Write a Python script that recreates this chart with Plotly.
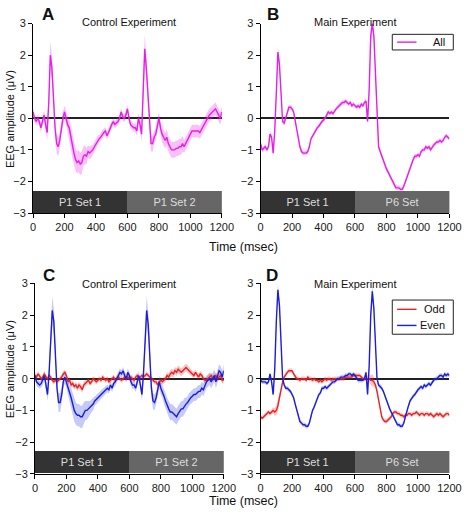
import plotly.graph_objects as go

W, H = 474, 519

# time grid (ms)
time_ms = list(range(0, 1201, 10))

# Panel A: Control experiment, all trials
ctrl_all = [
    0.2, 0.0, -0.1, 0.0, -0.1, -0.3, -0.1, 0.1, -0.2, -0.45,
    0.5, 2.0, 1.6, 0.6, -0.3, -0.8, -0.9, -0.7, -0.3, 0.0,
    0.2, 0.0, -0.2, -0.3, -0.6, -0.9, -1.1, -1.3, -1.4, -1.35,
    -1.45, -1.4, -1.2, -1.15, -1.2, -1.05, -1.1, -1.05, -1.0, -0.9,
    -0.8, -0.7, -0.65, -0.6, -0.5, -0.45, -0.4, -0.55, -0.45, -0.3,
    -0.2, -0.1, -0.2, -0.15, -0.1, 0.0, 0.2, 0.05, 0.0, 0.1,
    0.3, 0.0, -0.2, -0.25, -0.3, -0.3, -0.4, 0.0, -0.2, -0.5,
    0.8, 2.2, 1.6, 0.7, -0.3, -0.8, -0.8, -0.6, -0.5, -0.2,
    0.0, -0.3, -0.5, -0.6, -0.7, -0.6, -0.8, -0.9, -1.0, -1.0,
    -1.0, -0.95, -0.95, -0.9, -0.9, -0.8, -0.9, -0.8, -0.7, -0.55,
    -0.45, -0.4, -0.4, -0.4, -0.4, -0.4, -0.45, -0.35, -0.3, -0.2,
    -0.1, 0.0, 0.1, 0.15, 0.2, 0.25, 0.3, 0.2, 0.1, 0.0,
    0.2,
]
ctrl_all_sem = [
    0.12, 0.12, 0.12, 0.12, 0.12, 0.15, 0.15, 0.15, 0.2, 0.25,
    0.3, 0.45, 0.4, 0.3, 0.25, 0.3, 0.3, 0.25, 0.2, 0.2,
    0.2, 0.2, 0.25, 0.3, 0.35, 0.35, 0.35, 0.35, 0.35, 0.35,
    0.35, 0.35, 0.3, 0.3, 0.25, 0.2, 0.2, 0.2, 0.15, 0.15,
    0.15, 0.15, 0.12, 0.12, 0.12, 0.12, 0.12, 0.12, 0.12, 0.12,
    0.12, 0.12, 0.12, 0.12, 0.12, 0.12, 0.12, 0.12, 0.12, 0.12,
    0.12, 0.12, 0.12, 0.12, 0.12, 0.15, 0.15, 0.15, 0.2, 0.25,
    0.3, 0.45, 0.4, 0.3, 0.25, 0.25, 0.25, 0.2, 0.2, 0.2,
    0.2, 0.2, 0.25, 0.25, 0.25, 0.25, 0.25, 0.25, 0.25, 0.25,
    0.25, 0.25, 0.25, 0.25, 0.25, 0.25, 0.2, 0.2, 0.2, 0.2,
    0.2, 0.2, 0.2, 0.2, 0.2, 0.2, 0.2, 0.2, 0.2, 0.2,
    0.2, 0.2, 0.2, 0.2, 0.2, 0.2, 0.2, 0.2, 0.2, 0.2,
    0.2,
]

# Panel B: Main experiment, all trials
main_all = [
    -0.8, -1.0, -0.95, -0.9, -1.0, -0.9, -0.5, -0.6, -1.1, -0.4,
    0.8, 2.1, 1.7, 0.6, -0.1, -0.15, 0.0, 0.2, 0.35, 0.35,
    0.3, 0.2, -0.1, -0.4, -0.7, -0.9, -1.05, -1.1, -1.1, -1.1,
    -1.05, -0.9, -0.65, -0.55, -0.45, -0.4, -0.3, -0.25, -0.15, -0.1,
    -0.05, 0.0, 0.1, 0.2, 0.15, 0.2, 0.15, 0.25, 0.3, 0.35,
    0.4, 0.45, 0.5, 0.5, 0.55, 0.5, 0.45, 0.5, 0.4, 0.45,
    0.4, 0.35, 0.4, 0.35, 0.45, 0.4, 0.5, 0.55, -0.1, 0.9,
    2.6, 3.0, 2.6, 1.4, 0.1, -0.9, -1.05, -1.2, -1.35, -1.45,
    -1.6, -1.7, -1.8, -1.9, -2.0, -2.1, -2.2, -2.2, -2.2, -2.25,
    -2.25, -2.15, -2.0, -1.85, -1.7, -1.55, -1.4, -1.3, -1.2, -1.2,
    -1.15, -1.2, -1.05, -1.0, -1.0, -0.9, -0.95, -0.9, -1.0, -0.9,
    -0.85, -0.8, -0.75, -0.75, -0.7, -0.75, -0.7, -0.6, -0.55, -0.6,
    -0.65,
]
main_all_sem = [
    0.08, 0.08, 0.08, 0.08, 0.08, 0.08, 0.08, 0.08, 0.1, 0.12,
    0.15, 0.2, 0.15, 0.1, 0.08, 0.08, 0.08, 0.08, 0.08, 0.08,
    0.07, 0.07, 0.07, 0.07, 0.07, 0.07, 0.07, 0.07, 0.07, 0.07,
    0.07, 0.07, 0.07, 0.07, 0.07, 0.07, 0.07, 0.07, 0.07, 0.07,
    0.07, 0.07, 0.07, 0.07, 0.07, 0.07, 0.07, 0.07, 0.07, 0.07,
    0.07, 0.07, 0.07, 0.07, 0.07, 0.07, 0.07, 0.07, 0.07, 0.07,
    0.07, 0.07, 0.07, 0.07, 0.07, 0.07, 0.07, 0.08, 0.1, 0.15,
    0.2, 0.2, 0.2, 0.15, 0.1, 0.08, 0.08, 0.08, 0.08, 0.08,
    0.08, 0.08, 0.08, 0.08, 0.08, 0.08, 0.08, 0.08, 0.08, 0.08,
    0.08, 0.08, 0.08, 0.08, 0.08, 0.07, 0.07, 0.07, 0.07, 0.07,
    0.07, 0.07, 0.07, 0.07, 0.07, 0.07, 0.07, 0.07, 0.07, 0.07,
    0.07, 0.07, 0.07, 0.07, 0.07, 0.07, 0.07, 0.07, 0.07, 0.07,
    0.07,
]

# Panel C: Control experiment, odd / even
ctrl_even = [
    0.1, -0.1, -0.15, -0.2, -0.15, -0.05, 0.1, -0.2, -0.5, 0.2,
    1.3, 2.15, 1.8, 0.8, -0.3, -0.75, -0.75, -0.5, -0.1, 0.05,
    -0.1, -0.3, -0.45, -0.6, -0.8, -1.0, -1.1, -1.15, -1.15, -1.2,
    -1.2, -1.1, -1.0, -1.0, -0.95, -0.9, -0.85, -0.8, -0.7, -0.65,
    -0.6, -0.55, -0.5, -0.45, -0.4, -0.35, -0.3, -0.35, -0.2, -0.3,
    -0.15, -0.1, 0.0, 0.1, 0.2, 0.15, 0.25, 0.1, 0.0, 0.2,
    0.1, -0.1, -0.2, -0.2, -0.3, -0.1, 0.1, -0.2, -0.5, 0.2,
    1.2, 2.15, 1.7, 0.8, -0.3, -0.7, -0.75, -0.6, -0.3, -0.1,
    -0.3, -0.4, -0.55, -0.7, -0.85, -0.95, -1.05, -1.05, -1.1, -1.15,
    -1.2, -1.1, -1.0, -0.95, -0.95, -0.85, -0.8, -0.75, -0.65, -0.6,
    -0.55, -0.5, -0.5, -0.45, -0.4, -0.4, -0.3, -0.35, -0.2, -0.1,
    -0.05, 0.0, -0.1, 0.0, 0.1, -0.1, 0.1, 0.25, 0.2, 0.05,
    0.25,
]
ctrl_even_sem = ctrl_all_sem
ctrl_odd = [
    0.1, 0.05, 0.15, 0.05, 0.0, 0.05, 0.15, 0.05, 0.0, 0.1,
    0.05, -0.05, -0.1, -0.05, -0.1, -0.05, 0.0, 0.05, 0.15, 0.2,
    0.1, -0.1, -0.05, -0.2, -0.15, -0.25, -0.2, -0.3, -0.2, -0.25,
    -0.35, -0.2, -0.15, -0.1, -0.05, -0.15, -0.1, 0.0, -0.05, -0.1,
    -0.05, 0.0, -0.05, 0.05, 0.0, -0.05, 0.0, -0.1, -0.05, 0.0,
    0.05, -0.05, 0.0, 0.05, 0.0, -0.05, 0.0, 0.05, 0.0, 0.05,
    0.0, 0.05, 0.0, -0.05, 0.05, 0.1, 0.0, 0.05, 0.1, 0.05,
    0.1, 0.15, 0.1, 0.05, 0.0, -0.05, -0.1, -0.1, -0.2, -0.1,
    -0.05, -0.1, -0.05, 0.0, 0.1, 0.05, 0.15, 0.2, 0.15, 0.25,
    0.2, 0.3, 0.25, 0.2, 0.25, 0.3, 0.35, 0.3, 0.25, 0.2,
    0.15, 0.1, 0.2, 0.1, 0.05, 0.15, 0.1, 0.0, -0.05, -0.05,
    0.0, 0.05, 0.1, 0.0, 0.05, 0.1, 0.0, 0.05, 0.1, -0.05,
    -0.05,
]
ctrl_odd_sem = [
    0.08, 0.08, 0.08, 0.08, 0.08, 0.08, 0.08, 0.08, 0.08, 0.08,
    0.08, 0.08, 0.08, 0.08, 0.08, 0.08, 0.08, 0.08, 0.08, 0.08,
    0.1, 0.1, 0.1, 0.1, 0.1, 0.1, 0.1, 0.1, 0.1, 0.1,
    0.1, 0.1, 0.1, 0.1, 0.08, 0.08, 0.08, 0.08, 0.08, 0.08,
    0.08, 0.08, 0.08, 0.08, 0.08, 0.08, 0.08, 0.08, 0.08, 0.08,
    0.08, 0.08, 0.08, 0.08, 0.08, 0.08, 0.08, 0.08, 0.08, 0.08,
    0.08, 0.08, 0.08, 0.08, 0.08, 0.08, 0.08, 0.08, 0.08, 0.08,
    0.08, 0.08, 0.08, 0.08, 0.08, 0.08, 0.08, 0.08, 0.1, 0.1,
    0.1, 0.1, 0.1, 0.1, 0.1, 0.12, 0.12, 0.12, 0.12, 0.12,
    0.12, 0.12, 0.12, 0.12, 0.12, 0.12, 0.12, 0.12, 0.1, 0.1,
    0.1, 0.1, 0.1, 0.1, 0.1, 0.1, 0.1, 0.1, 0.1, 0.1,
    0.1, 0.1, 0.1, 0.1, 0.1, 0.1, 0.1, 0.1, 0.1, 0.1,
    0.1,
]

# Panel D: Main experiment, odd / even
main_even = [
    -0.05, -0.1, -0.1, -0.1, -0.15, -0.1, 0.15, -0.1, -0.5, 0.3,
    1.8, 2.8, 2.3, 1.0, 0.0, -0.2, -0.3, -0.3, -0.35, -0.4,
    -0.5, -0.6, -0.8, -1.0, -1.2, -1.35, -1.4, -1.45, -1.45, -1.5,
    -1.5, -1.4, -1.2, -1.0, -0.9, -0.75, -0.6, -0.5, -0.45, -0.3,
    -0.3, -0.25, -0.3, -0.25, -0.2, -0.15, -0.1, -0.1, -0.05, 0.0,
    0.0, 0.05, 0.05, 0.05, 0.1, 0.1, 0.15, 0.15, 0.1, 0.15,
    0.1, 0.0, -0.05, -0.05, -0.05, -0.05, 0.0, 0.2, -0.5, 0.4,
    2.0, 2.75, 2.2, 1.0, 0.0, -0.2, -0.25, -0.3, -0.4, -0.55,
    -0.7, -0.8, -0.95, -1.05, -1.15, -1.3, -1.4, -1.45, -1.45, -1.5,
    -1.5, -1.4, -1.2, -1.0, -0.85, -0.7, -0.6, -0.55, -0.5, -0.4,
    -0.35, -0.3, -0.25, -0.3, -0.2, -0.25, -0.2, -0.15, -0.2, -0.1,
    -0.05, 0.0, 0.0, 0.05, 0.1, 0.1, 0.05, 0.15, 0.1, 0.15,
    0.1,
]
main_odd = [
    -1.2, -1.25, -1.2, -1.15, -1.1, -1.05, -1.1, -1.05, -1.0, -1.05,
    -1.0, -0.85, -0.6, -0.3, -0.1, 0.05, 0.15, 0.2, 0.25, 0.25,
    0.25, 0.15, 0.05, 0.0, 0.0, -0.05, 0.0, 0.0, 0.0, -0.05,
    0.05, 0.0, 0.0, -0.05, 0.0, -0.05, -0.05, -0.1, -0.05, -0.1,
    -0.05, 0.0, -0.05, 0.0, 0.0, -0.05, 0.0, 0.0, 0.0, 0.0,
    0.0, 0.0, 0.0, 0.0, 0.05, 0.05, 0.05, 0.05, 0.05, 0.1,
    0.1, 0.1, 0.1, 0.1, 0.05, 0.0, 0.0, 0.0, 0.0, 0.0,
    -0.05, -0.05, -0.1, -0.2, -0.4, -0.7, -1.0, -1.2, -1.3, -1.35,
    -1.35, -1.3, -1.25, -1.2, -1.1, -1.05, -1.05, -1.1, -1.1, -1.15,
    -1.15, -1.2, -1.15, -1.15, -1.1, -1.1, -1.15, -1.1, -1.1, -1.05,
    -1.1, -1.15, -1.1, -1.1, -1.15, -1.1, -1.1, -1.15, -1.1, -1.15,
    -1.2, -1.15, -1.1, -1.15, -1.1, -1.15, -1.2, -1.15, -1.1, -1.1,
    -1.15,
]
main_oe_sem = [
    0.07, 0.07, 0.07, 0.07, 0.07, 0.07, 0.07, 0.07, 0.1, 0.12,
    0.15, 0.2, 0.15, 0.1, 0.08, 0.07, 0.07, 0.07, 0.07, 0.07,
    0.07, 0.07, 0.07, 0.07, 0.07, 0.07, 0.07, 0.07, 0.07, 0.07,
    0.07, 0.07, 0.07, 0.07, 0.07, 0.07, 0.07, 0.07, 0.07, 0.07,
    0.07, 0.07, 0.07, 0.07, 0.07, 0.07, 0.07, 0.07, 0.07, 0.07,
    0.07, 0.07, 0.07, 0.07, 0.07, 0.07, 0.07, 0.07, 0.07, 0.07,
    0.07, 0.07, 0.07, 0.07, 0.07, 0.07, 0.07, 0.07, 0.1, 0.12,
    0.15, 0.2, 0.15, 0.1, 0.08, 0.07, 0.07, 0.07, 0.07, 0.07,
    0.07, 0.07, 0.07, 0.07, 0.07, 0.07, 0.07, 0.07, 0.07, 0.07,
    0.07, 0.07, 0.07, 0.07, 0.07, 0.07, 0.07, 0.07, 0.07, 0.07,
    0.07, 0.07, 0.07, 0.07, 0.07, 0.07, 0.07, 0.07, 0.07, 0.07,
    0.07, 0.07, 0.07, 0.07, 0.07, 0.07, 0.07, 0.07, 0.07, 0.07,
    0.07,
]

# stimulus period bars
seg_centers = [300, 900]
seg_widths = [600, 600]
seg_height = [0.7, 0.7]
seg_base = [-3, -3]
seg_labels_ctrl = ["P1 Set 1", "P1 Set 2"]
seg_labels_main = ["P1 Set 1", "P6 Set"]
seg_colors = ["#333333", "#666666"]

y_ticks = [-3, -2, -1, 0, 1, 2, 3]
x_ticks = [0, 200, 400, 600, 800, 1000, 1200]

MAGENTA = "#e81ee8"
BLUE = "#1c1cdc"
RED = "#e82222"
BAND = {MAGENTA: "rgba(232,30,232,0.28)", BLUE: "rgba(60,80,235,0.3)", RED: "rgba(235,40,40,0.28)"}

FONT = "Liberation Sans, Arial, sans-serif"

fig = go.Figure()


def add_panel(ax, series, labels):
    xa = "x" + ("" if ax == 1 else str(ax))
    ya = "y" + ("" if ax == 1 else str(ax))
    fig.add_trace(go.Bar(
        x=seg_centers, y=seg_height, base=seg_base, width=seg_widths,
        marker=dict(color=seg_colors, line=dict(width=0)),
        text=labels, textposition="inside", insidetextanchor="middle",
        textfont=dict(color="#dddddd", size=11, family=FONT),
        showlegend=False, hoverinfo="skip", xaxis=xa, yaxis=ya,
    ))
    for name, vals, sem, color in series:
        upper = [v + s for v, s in zip(vals, sem)]
        lower = [v - s for v, s in zip(vals, sem)]
        fig.add_trace(go.Scatter(
            x=time_ms, y=upper, mode="lines", line=dict(width=0, color=BAND[color]),
            showlegend=False, hoverinfo="skip", xaxis=xa, yaxis=ya,
        ))
        fig.add_trace(go.Scatter(
            x=time_ms, y=lower, mode="lines", line=dict(width=0, color=BAND[color]),
            fill="tonexty", fillcolor=BAND[color],
            showlegend=False, hoverinfo="skip", xaxis=xa, yaxis=ya,
        ))
    for name, vals, sem, color in series:
        fig.add_trace(go.Scatter(
            x=time_ms, y=vals, mode="lines", name=name,
            line=dict(width=1.4, color=color),
            showlegend=False, xaxis=xa, yaxis=ya,
        ))


add_panel(1, [("All", ctrl_all, ctrl_all_sem, MAGENTA)], seg_labels_ctrl)
add_panel(2, [("All", main_all, main_all_sem, MAGENTA)], seg_labels_main)
add_panel(3, [("Odd", ctrl_odd, ctrl_odd_sem, RED), ("Even", ctrl_even, ctrl_even_sem, BLUE)], seg_labels_ctrl)
add_panel(4, [("Odd", main_odd, main_oe_sem, RED), ("Even", main_even, main_oe_sem, BLUE)], seg_labels_main)


def px_x(p):
    return p / W


def px_y(p):
    return 1 - p / H


domains = {
    1: ([px_x(31), px_x(226)], [px_y(212), px_y(18)]),
    2: ([px_x(266), px_x(461)], [px_y(212), px_y(18)]),
    3: ([px_x(33), px_x(228)], [px_y(479), px_y(284)]),
    4: ([px_x(266), px_x(461)], [px_y(479), px_y(284)]),
}

axis_common = dict(
    showline=True, linecolor="#000000", linewidth=1, ticks="outside", ticklen=4,
    tickcolor="#000000", tickwidth=1, showgrid=False, mirror=False,
    tickfont=dict(size=11, family=FONT, color="#1a1a1a"),
)

layout_axes = {}
for i, (xd, yd) in domains.items():
    suf = "" if i == 1 else str(i)
    layout_axes["xaxis" + suf] = dict(
        axis_common, domain=xd, range=[0, 1200], tickvals=x_ticks, zeroline=False,
        anchor="y" + suf, fixedrange=True,
    )
    layout_axes["yaxis" + suf] = dict(
        axis_common, domain=yd, range=[-3, 3], tickvals=y_ticks, zeroline=True,
        zerolinecolor="#222222", zerolinewidth=1.5, anchor="x" + suf, fixedrange=True,
    )

annotations = []
shapes = []


def txt(x, y, s, size=11, bold=False, angle=0, xanchor="center"):
    annotations.append(dict(
        x=px_x(x), y=px_y(y), xref="paper", yref="paper", text=("<b>%s</b>" % s) if bold else s,
        showarrow=False, xanchor=xanchor, yanchor="middle", textangle=angle,
        font=dict(size=size, family=FONT, color="#111111"),
    ))


txt(130, 16, "Control Experiment", 11)
txt(364, 16, "Main Experiment", 11)
txt(130, 285, "Control Experiment", 11)
txt(364, 285, "Main Experiment", 11)
txt(46, 9, "A", 17, bold=True)
txt(279, 9, "B", 17, bold=True)
txt(47, 276, "C", 17, bold=True)
txt(278, 276, "D", 17, bold=True)
txt(8, 116, "EEG amplitude (μV)", 11, angle=-90)
txt(8, 372, "EEG amplitude (μV)", 11, angle=-90)
txt(248, 247, "Time (msec)", 12.5)
txt(248, 507, "Time (msec)", 12.5)


# legends drawn as boxed keys (panel B: All; panel D: Odd/Even)
def legend_box(x0, y0, x1, y1, entries):
    shapes.append(dict(
        type="rect", xref="paper", yref="paper",
        x0=px_x(x0), x1=px_x(x1), y0=px_y(y1), y1=px_y(y0),
        line=dict(color="#222222", width=1), fillcolor="#ffffff", layer="above",
    ))
    for (name, color, yc) in entries:
        shapes.append(dict(
            type="line", xref="paper", yref="paper",
            x0=px_x(x0 + 5), x1=px_x(x0 + 25), y0=px_y(yc), y1=px_y(yc),
            line=dict(color=color, width=1.4), layer="above",
        ))
        txt(x1 - 6, yc, name, 11, xanchor="right")


legend_box(402, 29, 465, 45, [("All", MAGENTA, 37)])
legend_box(402, 301, 465, 336, [("Odd", RED, 310.5), ("Even", BLUE, 327)])

fig.update_layout(
    width=W, height=H, margin=dict(l=0, r=0, t=0, b=0),
    paper_bgcolor="#ffffff", plot_bgcolor="#ffffff",
    showlegend=False, bargap=0,
    annotations=annotations, shapes=shapes,
    font=dict(family=FONT),
    **layout_axes,
)

fig.write_html(
    "out.html",
    config={"displayModeBar": False},
    post_script="document.body.style.margin='0';document.body.style.overflow='hidden';",
)
